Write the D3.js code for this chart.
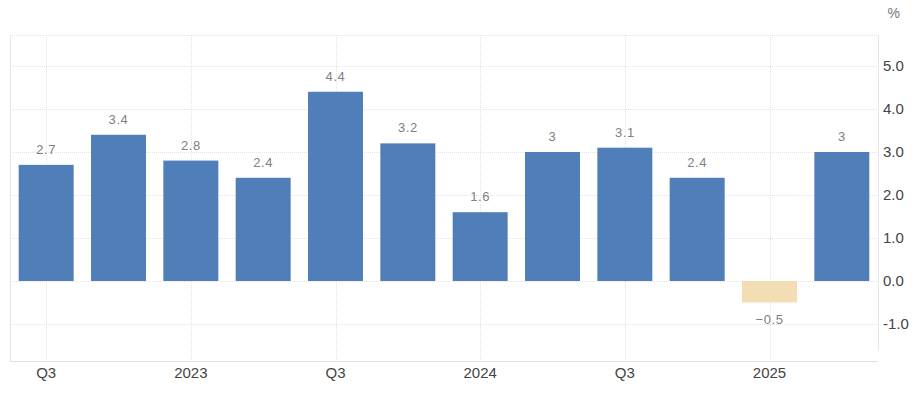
<!DOCTYPE html>
<html><head><meta charset="utf-8">
<script src="https://cdn.jsdelivr.net/npm/d3@7"></script>
<style>
html,body{margin:0;padding:0;background:#fff;}
svg{display:block;font-family:"Liberation Sans",Arial,sans-serif;}
</style></head>
<body>
<svg id="chart" width="914" height="393"></svg>
<script>
const quarters = ["2022Q3","2022Q4","2023Q1","2023Q2","2023Q3","2023Q4","2024Q1","2024Q2","2024Q3","2024Q4","2025Q1","2025Q2"];
const values = [2.7, 3.4, 2.8, 2.4, 4.4, 3.2, 1.6, 3, 3.1, 2.4, -0.5, 3];
const xTickLabels = {"2022Q3":"Q3","2023Q1":"2023","2023Q3":"Q3","2024Q1":"2024","2024Q3":"Q3","2025Q1":"2025"};
const yTicks = [-1, 0, 1, 2, 3, 4, 5];
const unit = "%";

const svg = d3.select("#chart");
const pL = 10, pR = 878, pT = 35, pB = 361;

const x = d3.scaleBand().domain(quarters).range([pL, pR]).paddingInner(0.24).paddingOuter(0.12);
const y = d3.scaleLinear().domain([-1.86, 5.72]).range([pB, pT]);

// grid
const g = svg.append("g");
g.selectAll("line.h").data(yTicks).join("line")
  .attr("x1", pL).attr("x2", pR)
  .attr("y1", d => Math.round(y(d)) + 0.5).attr("y2", d => Math.round(y(d)) + 0.5)
  .attr("stroke", "#e3e3e3").attr("stroke-dasharray", "1,1");
g.selectAll("line.v").data(quarters.filter(q => xTickLabels[q])).join("line")
  .attr("x1", d => Math.round(x(d) + x.bandwidth()/2) + 0.5)
  .attr("x2", d => Math.round(x(d) + x.bandwidth()/2) + 0.5)
  .attr("y1", pT).attr("y2", pB)
  .attr("stroke", "#e3e3e3").attr("stroke-dasharray", "1,1");
g.append("line").attr("x1", pL).attr("x2", pR).attr("y1", pT + 0.5).attr("y2", pT + 0.5)
  .attr("stroke", "#e3e3e3").attr("stroke-dasharray", "1,1");
g.append("line").attr("x1", pL + 0.5).attr("x2", pL + 0.5).attr("y1", pT).attr("y2", pB).attr("stroke", "#e6e6e6");
g.append("line").attr("x1", pR + 0.5).attr("x2", pR + 0.5).attr("y1", pT).attr("y2", 351).attr("stroke", "#e6e6e6");
g.append("line").attr("x1", pL).attr("x2", pR).attr("y1", pB + 0.5).attr("y2", pB + 0.5).attr("stroke", "#e0e0e0");

// bars
svg.append("g").selectAll("rect").data(quarters).join("rect")
  .attr("x", d => x(d))
  .attr("width", x.bandwidth())
  .attr("y", (d, i) => y(Math.max(0, values[i])))
  .attr("height", (d, i) => Math.abs(y(values[i]) - y(0)))
  .attr("fill", (d, i) => values[i] < 0 ? "#f3ddb3" : "#507eb9");

// value labels
svg.append("g").selectAll("text").data(quarters).join("text")
  .attr("x", d => x(d) + x.bandwidth()/2)
  .attr("y", (d, i) => values[i] < 0 ? y(values[i]) + 21 : y(values[i]) - 11)
  .attr("text-anchor", "middle")
  .attr("font-size", 13)
  .attr("letter-spacing", "0.6px")
  .attr("fill", "#808080")
  .text((d, i) => values[i] < 0 ? "\u2212" + Math.abs(values[i]) : String(values[i]));

// y axis labels
const yAxis = d3.axisRight(y).tickValues(yTicks).tickSize(0).tickPadding(0).tickFormat(d => d.toFixed(1));
const ya = svg.append("g").attr("transform", `translate(${pR + 5},0)`).call(yAxis);
ya.select(".domain").remove();
ya.selectAll("text").attr("font-size", 15).attr("fill", "#444").attr("font-family", "Liberation Sans, Arial, sans-serif");

svg.append("text").attr("x", 900).attr("y", 18).attr("text-anchor", "end")
  .attr("font-size", 14).attr("fill", "#777").text(unit);

// x axis
const xAxis = d3.axisBottom(x).tickValues(quarters.filter(q => xTickLabels[q])).tickSize(0).tickPadding(0).tickFormat(d => xTickLabels[d]);
const xa = svg.append("g").attr("transform", `translate(0,${pB + 6})`).call(xAxis);
xa.select(".domain").remove();
xa.selectAll("text").attr("font-size", 15).attr("fill", "#444").attr("font-family", "Liberation Sans, Arial, sans-serif");
</script>
</body></html>
